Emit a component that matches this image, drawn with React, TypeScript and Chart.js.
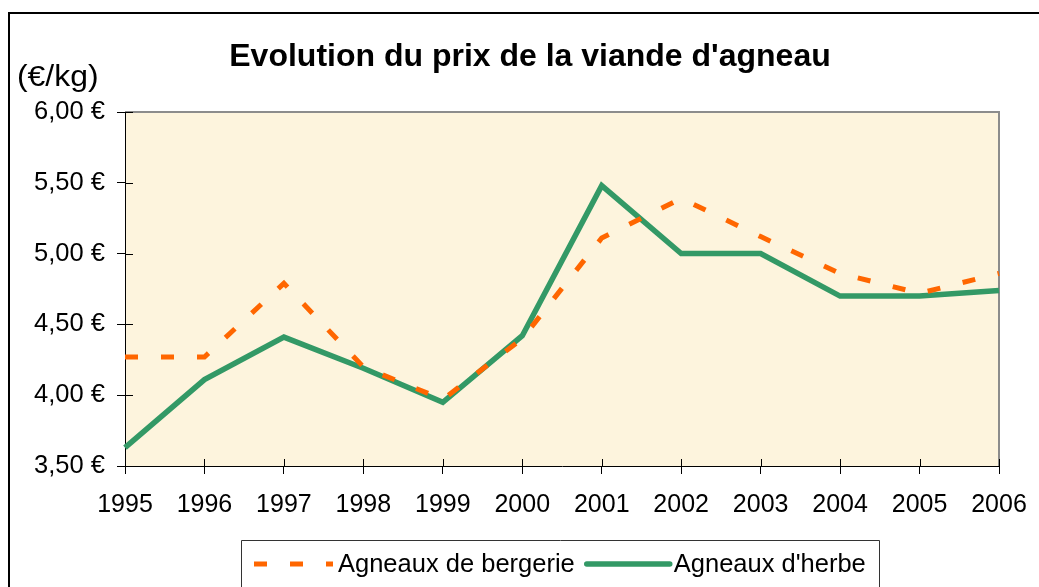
import React, { useEffect, useRef } from "react";
import { Chart, registerables } from "chart.js";

Chart.register(...registerables);

const years = ["1995", "1996", "1997", "1998", "1999", "2000", "2001", "2002", "2003", "2004", "2005", "2006"];
const bergerie = [4.27, 4.27, 4.79, 4.2, 3.97, 4.4, 5.11, 5.39, 5.12, 4.86, 4.72, 4.86];
const herbe = [3.63, 4.11, 4.41, 4.19, 3.95, 4.42, 5.48, 5.0, 5.0, 4.7, 4.7, 4.74];
const titleText = "Evolution du prix de la viande d'agneau";
const unitText = "(€/kg)";
const yMin = 3.5;
const yMax = 6.0;
const yStep = 0.5;

const FONT = "'Liberation Sans', Arial, sans-serif";

const decorPlugin = {
  id: "decor",
  beforeDraw(chart: any) {
    const { ctx, chartArea: a } = chart;
    ctx.save();
    ctx.fillStyle = "#ffffff";
    ctx.fillRect(0, 0, chart.width, chart.height);
    // outer frame
    ctx.strokeStyle = "#000000";
    ctx.lineWidth = 2;
    ctx.beginPath();
    ctx.moveTo(9, chart.height + 2);
    ctx.lineTo(9, 13);
    ctx.lineTo(chart.width + 2, 13);
    ctx.stroke();
    // plot background
    ctx.fillStyle = "#FDF4DD";
    ctx.fillRect(a.left, a.top, a.right - a.left, a.bottom - a.top);
    ctx.restore();
  },
  beforeDatasetsDraw(chart: any) {
    const { ctx, chartArea: a, scales } = chart;
    ctx.save();
    // gray top & right border
    ctx.strokeStyle = "#8c8c8c";
    ctx.lineWidth = 2;
    ctx.beginPath();
    ctx.moveTo(a.left, a.top);
    ctx.lineTo(a.right, a.top);
    ctx.lineTo(a.right, a.bottom);
    ctx.stroke();
    // inner tick marks
    ctx.strokeStyle = "#000000";
    ctx.lineWidth = 1;
    ctx.beginPath();
    const ys = scales.y;
    ys.ticks.forEach((_t: any, i: number) => {
      const p = Math.round(ys.getPixelForTick(i)) + 0.5;
      ctx.moveTo(a.left, p);
      ctx.lineTo(a.left + 8, p);
    });
    const xs = scales.x;
    xs.ticks.forEach((_t: any, i: number) => {
      const p = Math.round(xs.getPixelForTick(i)) + 0.5;
      ctx.moveTo(p, a.bottom);
      ctx.lineTo(p, a.bottom - 7);
    });
    ctx.stroke();
    ctx.restore();
  },
  afterDraw(chart: any) {
    const { ctx } = chart;
    ctx.save();
    ctx.fillStyle = "#000000";
    ctx.textBaseline = "alphabetic";
    ctx.textAlign = "center";
    ctx.font = `bold 32px ${FONT}`;
    ctx.fillText(titleText, 530, 66);

    ctx.textAlign = "left";
    ctx.font = `29px ${FONT}`;
    ctx.save();
    ctx.translate(17, 86);
    ctx.scale(1.1, 1);
    ctx.fillText(unitText, 0, 0);
    ctx.restore();

    // legend
    const bx = 241, by = 540, bw = 638;
    ctx.strokeStyle = "#333333";
    ctx.lineWidth = 1;
    ctx.beginPath();
    ctx.moveTo(bx + 0.5, chart.height + 2);
    ctx.lineTo(bx + 0.5, by + 0.5);
    ctx.lineTo(bx + bw + 0.5, by + 0.5);
    ctx.lineTo(bx + bw + 0.5, chart.height + 2);
    ctx.stroke();

    const ly = 564;
    ctx.font = `25.5px ${FONT}`;
    ctx.textBaseline = "middle";
    let x = 254;
    chart.data.datasets.forEach((ds: any) => {
      const dashed = ds.borderDash && ds.borderDash.length;
      const len = dashed ? 79 : 83;
      ctx.save();
      ctx.strokeStyle = ds.borderColor;
      ctx.lineWidth = ds.borderWidth;
      ctx.setLineDash(ds.borderDash || []);
      ctx.lineCap = dashed ? "butt" : "round";
      ctx.beginPath();
      ctx.moveTo(x, ly);
      ctx.lineTo(x + len, ly);
      ctx.stroke();
      ctx.restore();
      x += len + (dashed ? 5 : 4);
      ctx.fillStyle = "#000000";
      ctx.fillText(ds.label, x, ly + 1);
      x += ctx.measureText(ds.label).width + 12;
    });
    ctx.restore();
  },
};

export default function App() {
  const ref = useRef<HTMLCanvasElement | null>(null);
  useEffect(() => {
    document.body.style.margin = "0";
    if (!ref.current) return;
    const chart = new Chart(ref.current, {
      type: "line",
      data: {
        labels: years,
        datasets: [
          {
            label: "Agneaux de bergerie",
            data: bergerie,
            borderColor: "#FF6600",
            backgroundColor: "#FF6600",
            borderWidth: 5,
            borderDash: [13, 23],
            borderCapStyle: "butt",
            pointRadius: 0,
            tension: 0,
            fill: false,
          },
          {
            label: "Agneaux d'herbe",
            data: herbe,
            borderColor: "#339966",
            backgroundColor: "#339966",
            borderWidth: 5.5,
            borderJoinStyle: "miter",
            pointRadius: 0,
            tension: 0,
            fill: false,
          },
        ],
      },
      options: {
        responsive: false,
        animation: false,
        layout: { padding: { top: 112, right: 40, bottom: 71, left: 0 } },
        plugins: {
          legend: { display: false },
          title: { display: false },
          tooltip: { enabled: false },
        },
        scales: {
          x: {
            type: "category",
            offset: false,
            grid: { display: true, drawOnChartArea: false, drawTicks: true, tickLength: 8, color: "#000000" },
            border: { display: true, color: "#000000", width: 1 },
            ticks: {
              color: "#000000",
              font: { family: FONT, size: 25 },
              padding: 16,
              maxRotation: 0,
              autoSkip: false,
            },
            afterFit(scale: any) {
              scale.height = 50;
              scale.paddingLeft = 0;
              scale.paddingRight = 0;
            },
          },
          y: {
            min: yMin,
            max: yMax,
            grid: { display: true, drawOnChartArea: false, drawTicks: true, tickLength: 8, color: "#000000" },
            border: { display: true, color: "#000000", width: 1 },
            ticks: {
              stepSize: yStep,
              color: "#000000",
              font: { family: FONT, size: 25.5 },
              padding: 12,
              callback: (v: any) => Number(v).toFixed(2).replace(".", ",") + " €",
            },
            afterFit(scale: any) {
              scale.width = 125;
              scale.paddingTop = 0;
              scale.paddingBottom = 0;
            },
          },
        },
      },
      plugins: [decorPlugin],
    });
    return () => chart.destroy();
  }, []);
  return (
    <div style={{ position: "absolute", left: 0, top: 0, width: 1039, height: 587 }}>
      <canvas ref={ref} width={1039} height={587} style={{ display: "block" }} />
    </div>
  );
}
